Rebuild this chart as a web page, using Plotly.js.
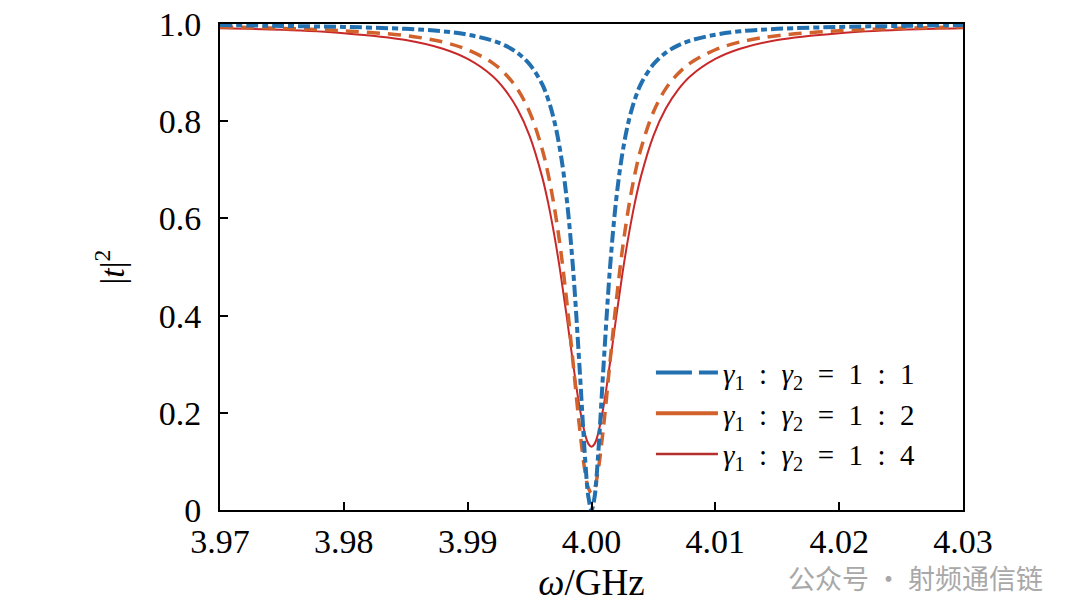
<!DOCTYPE html>
<html>
<head>
<meta charset="utf-8">
<script src="https://cdn.plot.ly/plotly-3.0.1.min.js"></script>
<style>
  html, body { margin: 0; padding: 0; background: #fff; }
  #chart { width: 1080px; height: 615px; }
</style>
</head>
<body>
<div id="chart"></div>
<script>
// frequency samples (GHz), denser near the resonance
const omega = [
  3.970, 3.975, 3.980, 3.985, 3.988, 3.990, 3.992, 3.993, 3.994, 3.995,
  3.996, 3.9965, 3.997, 3.9975, 3.998, 3.9985, 3.999, 3.9995, 3.99975, 4.000,
  4.00025, 4.0005, 4.001, 4.0015, 4.002, 4.0025, 4.003, 4.0035, 4.004, 4.005,
  4.006, 4.007, 4.008, 4.010, 4.012, 4.015, 4.020, 4.025, 4.030
]

// |t|^2 for each coupling ratio
const ratio11 = [
  0.998, 0.996, 0.994, 0.990, 0.985, 0.978, 0.966, 0.956, 0.941, 0.917,
  0.877, 0.845, 0.800, 0.735, 0.640, 0.500, 0.308, 0.100, 0.027, 0.000,
  0.027, 0.100, 0.308, 0.500, 0.640, 0.735, 0.800, 0.845, 0.877, 0.917,
  0.941, 0.956, 0.966, 0.978, 0.985, 0.990, 0.994, 0.996, 0.998
]
const ratio12 = [
  0.994, 0.991, 0.986, 0.976, 0.963, 0.947, 0.920, 0.898, 0.867, 0.819,
  0.744, 0.691, 0.623, 0.537, 0.430, 0.306, 0.178, 0.075, 0.045, 0.035,
  0.045, 0.075, 0.178, 0.306, 0.430, 0.537, 0.623, 0.691, 0.744, 0.819,
  0.867, 0.898, 0.920, 0.947, 0.963, 0.976, 0.986, 0.991, 0.994
]
const ratio14 = [
  0.991, 0.988, 0.981, 0.967, 0.949, 0.928, 0.893, 0.865, 0.826, 0.770,
  0.687, 0.632, 0.565, 0.487, 0.398, 0.304, 0.217, 0.154, 0.136, 0.130,
  0.136, 0.154, 0.217, 0.304, 0.398, 0.487, 0.565, 0.632, 0.687, 0.770,
  0.826, 0.865, 0.893, 0.928, 0.949, 0.967, 0.981, 0.988, 0.991
]

const seriesNames = [
  '<i>γ</i><sub>1</sub>\u2002:\u2002<i>γ</i><sub>2</sub>\u2002=\u20021\u2002:\u20021',
  '<i>γ</i><sub>1</sub>\u2002:\u2002<i>γ</i><sub>2</sub>\u2002=\u20021\u2002:\u20022',
  '<i>γ</i><sub>1</sub>\u2002:\u2002<i>γ</i><sub>2</sub>\u2002=\u20021\u2002:\u20024'
]

const xTicks = [3.97, 3.98, 3.99, 4.00, 4.01, 4.02, 4.03]
const xTickText = ['3.97', '3.98', '3.99', '4.00', '4.01', '4.02', '4.03']
const yTicks = [0, 0.2, 0.4, 0.6, 0.8, 1.0]
const yTickText = ['0', '0.2', '0.4', '0.6', '0.8', '1.0']

const blue = '#2270b0'
const orange = '#d2622c'
const red = '#c8282a'
const serif = 'Liberation Serif, DejaVu Serif, serif'

// curves (legend entries are drawn separately so the handles look like the original)
const traces = [
  {x: omega, y: ratio14, mode: 'lines', line: {color: red, width: 2, shape: 'spline'}, showlegend: false},
  {x: omega, y: ratio12, mode: 'lines', line: {color: orange, width: 3.5, dash: '13px,8px', shape: 'spline'}, showlegend: false},
  {x: omega, y: ratio11, mode: 'lines', line: {color: blue, width: 4, dash: '12px,4px,6px,4px', shape: 'spline'}, showlegend: false},
  {x: [null], y: [null], mode: 'lines', name: seriesNames[0], line: {color: blue, width: 4, dash: '36px,7px,19px,7px'}},
  {x: [null], y: [null], mode: 'lines', name: seriesNames[1], line: {color: orange, width: 4}},
  {x: [null], y: [null], mode: 'lines', name: seriesNames[2], line: {color: '#b5302c', width: 2.5}}
]

const tickFont = {family: serif, size: 34, color: '#000'}

const layout = {
  width: 1080,
  height: 615,
  margin: {l: 220, r: 117, t: 24, b: 105},
  paper_bgcolor: '#fff',
  plot_bgcolor: '#fff',
  font: {family: serif, color: '#000', size: 34},
  showlegend: true,
  legend: {
    x: 0.58, y: 0.335, xanchor: 'left', yanchor: 'top',
    bgcolor: 'rgba(255,255,255,0)',
    font: {family: serif, size: 29, color: '#000'},
    itemwidth: 62,
    tracegroupgap: 0
  },
  xaxis: {
    range: [3.97, 4.03],
    tickvals: xTicks, ticktext: xTickText, tickfont: tickFont,
    ticks: 'inside', ticklen: 8, tickwidth: 2, tickcolor: '#000',
    showline: true, linecolor: '#000', linewidth: 2, mirror: true,
    showgrid: false, zeroline: false,
    ticklabelstandoff: 0,
    title: {text: '<i>ω</i>/GHz', font: {family: serif, size: 37}, standoff: 10}
  },
  yaxis: {
    range: [0, 1.0],
    tickvals: yTicks, ticktext: yTickText, tickfont: tickFont,
    ticks: 'inside', ticklen: 8, tickwidth: 2, tickcolor: '#000',
    showline: true, linecolor: '#000', linewidth: 2, mirror: true,
    showgrid: false, zeroline: false,
    ticklabelstandoff: 10,
    title: {text: '|<i>t</i>|<sup>2</sup>', font: {family: serif, size: 34}, standoff: 24}
  },
  annotations: [{
    text: '公众号 · 射频通信链',
    xref: 'paper', yref: 'paper', x: 1.110, y: -0.138,
    xanchor: 'right', yanchor: 'middle', showarrow: false,
    font: {family: 'Noto Sans CJK SC, sans-serif', size: 27, color: '#a8a8a8'}
  }]
}

Plotly.newPlot('chart', traces, layout, {staticPlot: true})
</script>
</body>
</html>
